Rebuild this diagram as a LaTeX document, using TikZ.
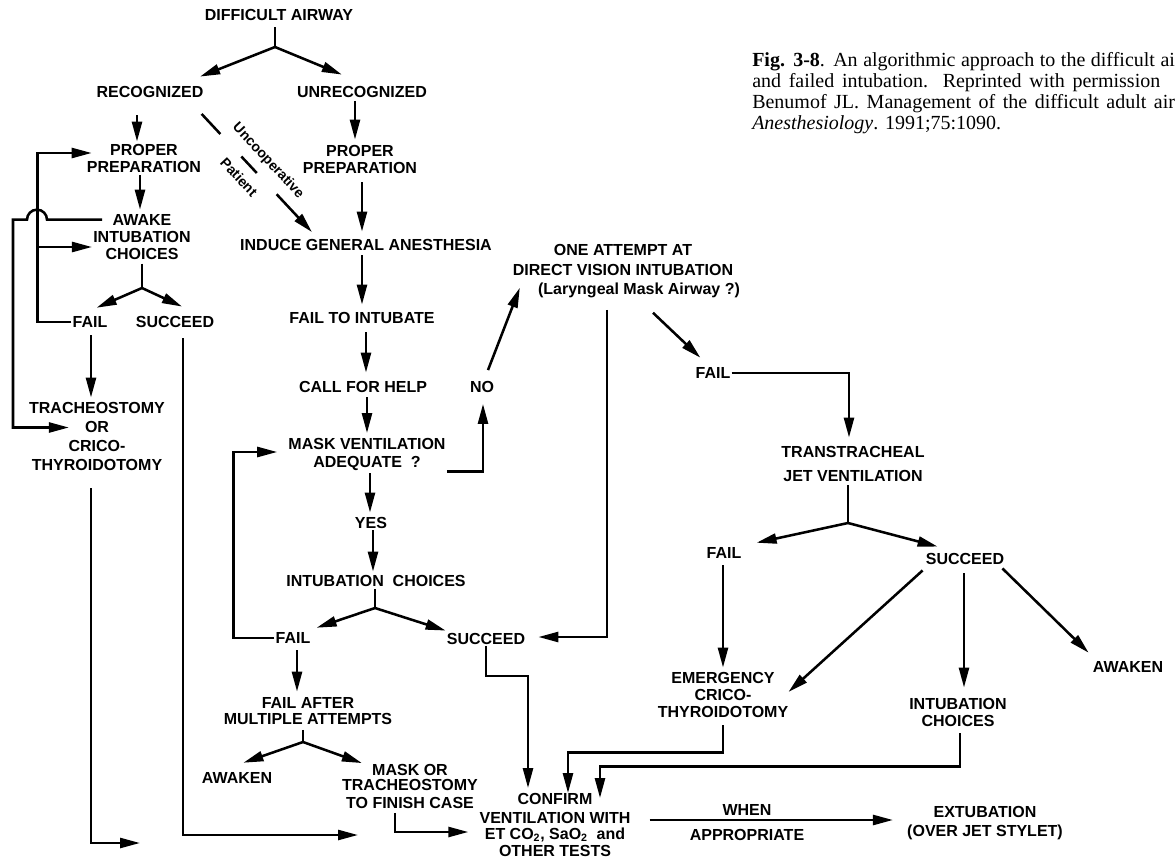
\documentclass[tikz,border=0pt]{standalone}
\usepackage{fontspec}
\setmainfont{Liberation Serif}
\newfontfamily\chartfont{Liberation Sans}
\usepackage{tikz}
\usetikzlibrary{arrows.meta,calc}

\tikzset{
  lbl/.style={font={\chartfont\bfseries\fontsize{12}{12.75}\selectfont}, align=center, inner sep=0.75pt},
  sidelbl/.style={font={\chartfont\bfseries\fontsize{10.5}{12}\selectfont}, inner sep=0.75pt},
  captxt/.style={font={\fontsize{15}{16}\selectfont}, anchor=base west, inner sep=0pt},
  ln/.style={line width=1.9pt},
  arr/.style={line width=1.9pt, -{Triangle[length=15pt,width=7.5pt]}},
}

\begin{document}
\begin{tikzpicture}[x=0.75pt,y=0.75pt,yscale=-1,xscale=1]
\useasboundingbox (0,0) rectangle (1175,860);

% Text Node
\node[captxt] (cap1) at (752,66) {\makebox[317pt][s]{\textbf{Fig. 3-8}. An algorithmic approach to the difficult ai}};
% Text Node
\node[captxt] (cap2) at (752,87) {\makebox[306pt][s]{and failed intubation. Reprinted with permission}};
% Text Node
\node[captxt] (cap3) at (752,108) {\makebox[317pt][s]{Benumof JL. Management of the difficult adult air}};
% Text Node
\node[captxt] (cap4) at (752,129) {\textit{Anesthesiology}. 1991;75:1090.};

% Text Node
\node[lbl] (top) at (279,15) {DIFFICULT AIRWAY};
% Text Node
\node[lbl] (rec) at (150,92) {RECOGNIZED};
% Text Node
\node[lbl] (unrec) at (362,92) {UNRECOGNIZED};
% Text Node
\node[lbl] (prepA) at (144,158.5) {PROPER\\PREPARATION};
% Text Node
\node[lbl] (awake) at (142,237) {AWAKE\\INTUBATION\\CHOICES};
% Text Node
\node[lbl] (failA) at (90,322) {FAIL};
% Text Node
\node[lbl] (succA) at (175,322) {SUCCEED};
% Text Node
\node[lbl] (trach) at (97,436.5) {TRACHEOSTOMY\\[1.5pt]OR\\[1.5pt]CRICO-\\[1.5pt]THYROIDOTOMY};
% Text Node
\node[lbl] (prepB) at (360,159) {PROPER\\PREPARATION};
% Text Node
\node[lbl] (uncoop) at (268,161) [rotate=-47, sidelbl] {Uncooperative};
% Text Node
\node[lbl] (patient) at (239,177) [rotate=-47, sidelbl] {Patient};
% Text Node
\node[lbl] (induce) at (366,245) {INDUCE GENERAL ANESTHESIA};
% Text Node
\node[lbl] (failint) at (362,318) {FAIL TO INTUBATE};
% Text Node
\node[lbl] (help) at (363,387) {CALL FOR HELP};
% Text Node
\node[lbl] (maskvent) at (367,454) {MASK VENTILATION\\[0.75pt]ADEQUATE\ \ ?};
% Text Node
\node[lbl] (no) at (482,387) {NO};
% Text Node
\node[lbl] (attempt) at (623,271) {ONE ATTEMPT AT\\[1.8pt]DIRECT VISION INTUBATION\\[1.5pt]\hspace*{24pt}(Laryngeal Mask Airway ?)};
% Text Node
\node[lbl] (yes) at (371,523) {YES};
% Text Node
\node[lbl] (intubC) at (376,581) {INTUBATION\ \ CHOICES};
% Text Node
\node[lbl] (failB) at (293,638) {FAIL};
% Text Node
\node[lbl] (succB) at (486,639) {SUCCEED};
% Text Node
\node[lbl] (multi) at (308,711) {FAIL AFTER\\[-0.75pt]MULTIPLE ATTEMPTS};
% Text Node
\node[lbl] (awakeB) at (237,778) {AWAKEN};
% Text Node
\node[lbl] (finish) at (410,786.5) {MASK OR\\[-1.5pt]TRACHEOSTOMY\\[0.75pt]TO FINISH CASE};
% Text Node
\node[lbl] (confirm) at (555,824.5) {CONFIRM\\[1.5pt]VENTILATION WITH\\[-0.75pt]ET CO\textsubscript{2}, SaO\textsubscript{2}\ \ and\\OTHER TESTS};
% Text Node
\node[lbl] (failC) at (713,373) {FAIL};
% Text Node
\node[lbl] (jet) at (853,464) {TRANSTRACHEAL\\[5.25pt]JET VENTILATION};
% Text Node
\node[lbl] (failD) at (724,553) {FAIL};
% Text Node
\node[lbl] (succD) at (965,559) {SUCCEED};
% Text Node
\node[lbl] (emerg) at (723,695) {EMERGENCY\\CRICO-\\THYROIDOTOMY};
% Text Node
\node[lbl] (intubD) at (958,712.5) {INTUBATION\\CHOICES};
% Text Node
\node[lbl] (awakeD) at (1128,667) {AWAKEN};
% Text Node
\node[lbl] (extub) at (985,823.5) {EXTUBATION\\[1.5pt](OVER JET STYLET)};

\coordinate (forkT) at (275,47);
\coordinate (forkA) at (142,288);
\coordinate (forkC) at (375,608);
\coordinate (forkD) at (303,742);
\coordinate (forkE) at (848,523);
\coordinate (endA) at (140,843);
\coordinate (endB) at (358,835);
\coordinate (ucS) at ($(rec.south east)+(-3,15)$);
\coordinate (ucE) at ($(induce.north west)+(73,-6)$);

% Connection
\draw[ln, shorten <=4pt] (forkT |- top.south) -- (forkT);
% Connection
\draw[arr] (forkT) -- ($(rec.north east)+(-4.5,-8.5)$);
% Connection
\draw[arr] (forkT) -- ($(unrec.north west)+(46,-10.5)$);
% Connection
\draw[arr] ($(rec.south)+(-13,16.5)$) -- ($(prepA.north)+(-7,-1.5)$);
% Connection
\draw[arr] ($(prepA.south)+(-4,1.5)$) -- ($(awake.north)+(-2,-3.5)$);
% Connection
\draw[ln, shorten <=2pt] (awake.south) -- (forkA);
% Connection
\draw[arr] (forkA) -- ($(failA.north east)+(-12,-7.5)$);
% Connection
\draw[arr] (forkA) -- ($(succA.north)+(7,-8.5)$);
% Connection
\draw[arr] (failA.west) -- ++(-34,0) |- ($(prepA.west)+(6,-5.5)$);
% Connection
\draw[arr] ($(awake.west)+(-55,10)$) -- ($(awake.west)+(0,10)$);
% Connection
\draw[arr] ($(awake.north west)+(10,6.5)$) -- ++(-55,0) arc[start angle=0, end angle=-180, radius=10] -- ++(-14,0) |- ($(trach.west)+(41,-9)$);
% Connection
\draw[arr] ($(failA.south)+(1,6.5)$) -- ($(trach.north)+(-6,-3.5)$);
% Connection
\draw[arr] ($(trach.south)+(-6,16.5)$) |- (endA);
% Connection
\draw[arr] ($(succA.south)+(8,9.5)$) |- (endB);
% Connection
\draw[arr] ($(unrec.south)+(-7,2)$) -- ($(prepB.north)+(-5,-4)$);
% Connection
\draw[arr] ($(prepB.south)+(2,8)$) -- ($(induce.north)+(-4,-6.5)$);
% Connection
\draw[ln] (ucS) -- ($(ucS)!0.17!(ucE)$);
\draw[ln] ($(ucS)!0.36!(ucE)$) -- ($(ucS)!0.5!(ucE)$);
\draw[arr] ($(ucS)!0.68!(ucE)$) -- (ucE);
% Connection
\draw[arr] ($(induce.south)+(-4,3.5)$) -- ($(failint.north)+(0,-6.5)$);
% Connection
\draw[arr] ($(failint.south)+(4,7.5)$) -- ($(help.north)+(3,-7.5)$);
% Connection
\draw[arr] ($(help.south)+(4,3.5)$) -- ($(maskvent.north)+(0,-3.5)$);
% Connection
\draw[arr] (maskvent.south east) -| ($(no.south)+(1,10)$);
% Connection
\draw[arr] ($(no.north)+(6,-10)$) -- ($(attempt.south west)+(15,-11)$);
% Connection
\draw[arr] ($(maskvent.south)+(3,2)$) -- ($(yes.north)+(-1,-3.5)$);
% Connection
\draw[arr] ($(yes.south)+(2,0.5)$) -- ($(intubC.north)+(-3,-2.5)$);
% Connection
\draw[ln] ($(intubC.south)+(-1,1)$) -- (forkC);
% Connection
\draw[arr] (forkC) -- ($(failB.north east)+(5,-3.5)$);
% Connection
\draw[arr] (forkC) -- ($(succB.north west)+(0,-1.5)$);
% Connection
\draw[arr] (failB.west) -- ++(-41,0) |- ($(maskvent.west)+(-10,-2)$);
% Connection
\draw[arr] ($(failB.south)+(4,5.5)$) -- ($(multi.north)+(-11,-4.5)$);
% Connection
\draw[ln] ($(multi.south)+(-5,4)$) -- (forkD);
% Connection
\draw[arr] (forkD) -- ($(awakeB.north east)+(-30,-8.5)$);
% Connection
\draw[arr] (forkD) -- ($(finish.north west)+(21,0)$);
% Connection
\draw[arr] ($(finish.south west)+(54,3)$) |- ($(confirm.west)+(-10,7.5)$);
% Connection
\draw[arr] (succB.south) -- ++(0,30) -| ($(confirm.north)+(-27,-3.5)$);
% Connection
\draw[arr] ($(attempt.south)+(-16,11)$) |- ($(succB.east)+(12,-2)$);
% Connection
\draw[arr] ($(attempt.south)+(30,14)$) -- ($(failC.north west)+(6,-8.5)$);
% Connection
\draw[arr] (failC.east) -| ($(jet.north)+(-4,-7.5)$);
% Connection
\draw[ln] ($(jet.south)+(-5,2)$) -- (forkE);
% Connection
\draw[arr] (forkE) -- ($(failD.north east)+(14,-3.5)$);
% Connection
\draw[arr] (forkE) -- ($(succD.north west)+(13,-5.5)$);
% Connection
\draw[arr] ($(failD.south)+(-1,5.5)$) -- ($(emerg.north)+(0,-3.5)$);
% Connection
\draw[arr] ($(succD.south west)+(-2,4.5)$) -- ($(emerg.east)+(-1,-3)$);
% Connection
\draw[arr] ($(succD.south)+(-1,7.5)$) -- ($(intubD.north)+(6,-9.5)$);
% Connection
\draw[arr] ($(succD.south east)+(-3,2.5)$) -- ($(awakeD.north west)+(-3,-7.5)$);
% Connection
\draw[arr] ($(emerg.south)+(0,6.5)$) -- ++(0,27) -| ($(confirm.north)+(13,1.5)$);
% Connection
\draw[arr] ($(intubD.south)+(2,5.5)$) -- ++(0,33) -| ($(confirm.north)+(45,6.5)$);
% Connection
\draw[arr] ($(confirm.east)+(18,-4.5)$) -- node[lbl, pos=0.4, above=2pt] (when) {WHEN} node[lbl, pos=0.4, below=5pt] (appr) {APPROPRIATE} ($(extub.west)+(-13,-3.5)$);

\end{tikzpicture}
\end{document}
